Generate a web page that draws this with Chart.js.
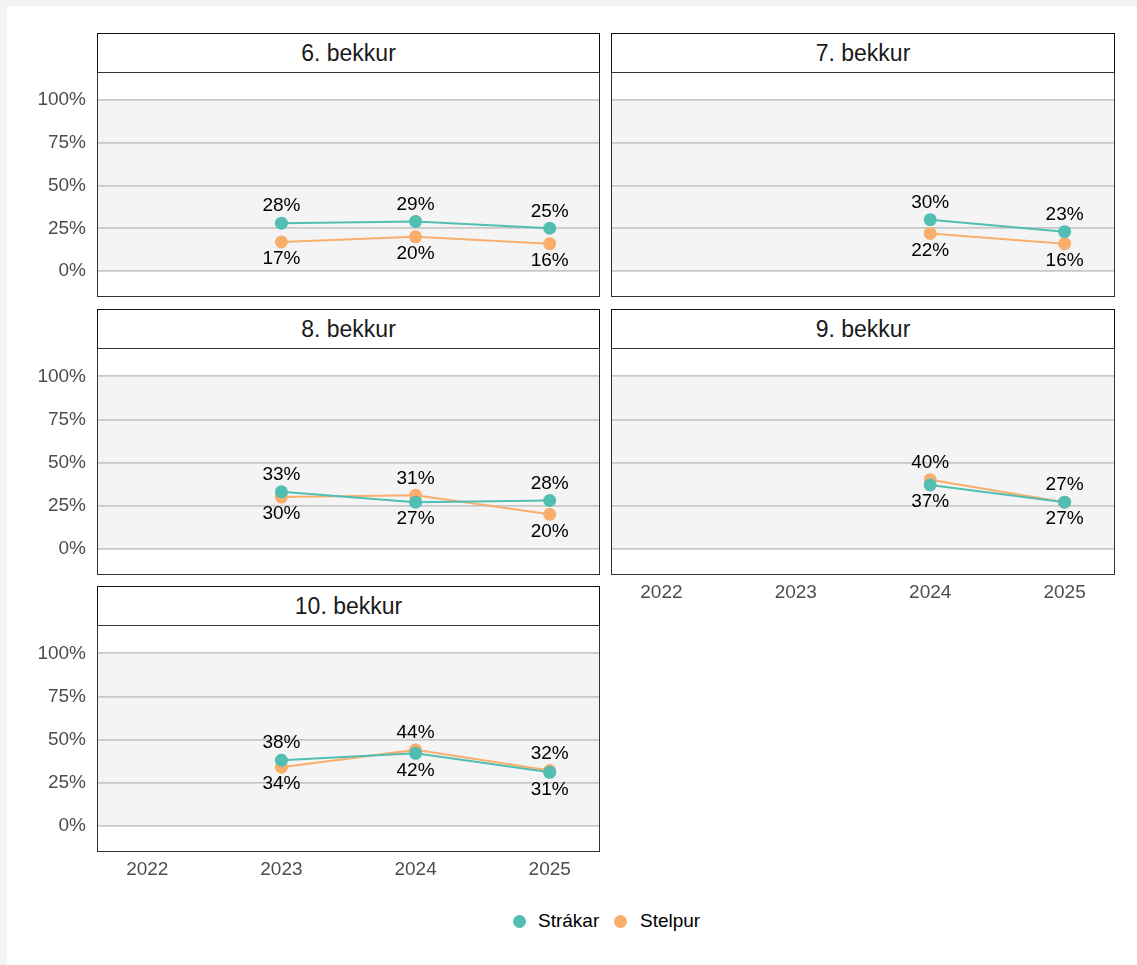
<!DOCTYPE html>
<html>
<head>
<meta charset="utf-8">
<script src="https://cdn.jsdelivr.net/npm/chart.js@4.4.1/dist/chart.umd.min.js"></script>
<style>
  body { margin: 0; background: #f3f3f3; font-family: "Liberation Sans", Arial, sans-serif; }
  #page { position: absolute; left: 7px; top: 6px; width: 1130px; height: 959px; background: #fff; }
  .strip { position: absolute; box-sizing: border-box; border: 1px solid #111; background: #fff;
           display: flex; align-items: center; justify-content: center; font-size: 23px; color: #1a1a1a; }
  .panel { position: absolute; }
  .legend { position: absolute; top: 908px; font-size: 19px; color: #000; line-height: 26px; }
  .dot { position: absolute; width: 13px; height: 13px; border-radius: 50%; }
</style>
</head>
<body>
<div id="page"></div>
<div id="figure"></div>
<script>
// years on the x axis
const years = [2022, 2023, 2024, 2025];

// shares per grade, null = no survey that year
const facets = ['6. bekkur', '7. bekkur', '8. bekkur', '9. bekkur', '10. bekkur'];
const strakar6 = [null, 0.28, 0.29, 0.25];
const stelpur6 = [null, 0.17, 0.20, 0.16];
const strakar7 = [null, null, 0.30, 0.23];
const stelpur7 = [null, null, 0.22, 0.16];
const strakar8 = [null, 0.33, 0.27, 0.28];
const stelpur8 = [null, 0.30, 0.31, 0.20];
const strakar9 = [null, null, 0.37, 0.27];
const stelpur9 = [null, null, 0.40, 0.27];
const strakar10 = [null, 0.38, 0.42, 0.31];
const stelpur10 = [null, 0.34, 0.44, 0.32];

const strakarAll = [strakar6, strakar7, strakar8, strakar9, strakar10];
const stelpurAll = [stelpur6, stelpur7, stelpur8, stelpur9, stelpur10];

const seriesNames = ['Strákar', 'Stelpur'];
const seriesColors = ['#52bdb1', '#f9ae6c'];

const FONT = '"Liberation Sans", Arial, sans-serif';

// panel layout (facet_wrap, 2 columns)
const colLeft = [97, 611], colWidth = [503, 504];
const stripTop = [33, 309, 586], plotTop = [72, 348, 625], plotHeight = [225, 227, 227];

function toPoints(arr) {
  return years.map((y, i) => ({ x: y, y: arr[i] })).filter(p => p.y !== null);
}

// grey band between 0% and 100% plus panel border
const panelBg = {
  id: 'panelBg',
  beforeDraw(chart) {
    const { ctx, chartArea: a, scales: { y } } = chart;
    const t = y.getPixelForValue(1), b = y.getPixelForValue(0);
    ctx.save();
    ctx.fillStyle = '#f4f4f4';
    ctx.fillRect(a.left, t, a.right - a.left, b - t);
    ctx.restore();
  },
  afterDraw(chart) {
    const { ctx, chartArea: a } = chart;
    ctx.save();
    ctx.strokeStyle = '#333';
    ctx.lineWidth = 1;
    ctx.strokeRect(a.left + 0.5, a.top + 0.5, a.right - a.left - 1, a.bottom - a.top - 1);
    ctx.restore();
  }
};

// percentage labels: higher value above the point, lower below
const pointLabels = {
  id: 'pointLabels',
  afterDatasetsDraw(chart) {
    const ctx = chart.ctx;
    const sets = chart.data.datasets;
    ctx.save();
    ctx.font = '19px ' + FONT;
    ctx.fillStyle = '#000';
    ctx.textAlign = 'center';
    ctx.textBaseline = 'middle';
    sets.forEach((ds, i) => {
      const meta = chart.getDatasetMeta(i);
      ds.data.forEach((p, j) => {
        const o = sets[1 - i].data.find(q => q.x === p.x);
        const above = !o || p.y > o.y || (p.y === o.y && i === 0);
        const el = meta.data[j];
        ctx.fillText(Math.round(p.y * 100) + '%', el.x, el.y + (above ? -17 : 17));
      });
    });
    ctx.restore();
  }
};

function noPad(s) {
  s.paddingTop = 0; s.paddingBottom = 0; s.paddingLeft = 0; s.paddingRight = 0;
}

const fig = document.getElementById('figure');

facets.forEach((name, k) => {
  const row = Math.floor(k / 2), col = k % 2;
  const showY = col === 0;
  const showX = (k === 3 || k === 4);
  const yW = showY ? 97 : 0;
  const xH = showX ? 40 : 0;

  const strip = document.createElement('div');
  strip.className = 'strip';
  strip.style.left = colLeft[col] + 'px';
  strip.style.top = stripTop[row] + 'px';
  strip.style.width = colWidth[col] + 'px';
  strip.style.height = (plotTop[row] - stripTop[row] + 1) + 'px';
  strip.textContent = name;
  fig.appendChild(strip);

  const box = document.createElement('div');
  box.className = 'panel';
  box.style.left = (colLeft[col] - yW) + 'px';
  box.style.top = plotTop[row] + 'px';
  box.style.width = (colWidth[col] + yW) + 'px';
  box.style.height = (plotHeight[row] + xH) + 'px';
  const canvas = document.createElement('canvas');
  box.appendChild(canvas);
  fig.appendChild(box);

  new Chart(canvas, {
    type: 'line',
    data: {
      datasets: [strakarAll[k], stelpurAll[k]].map((arr, i) => ({
        label: seriesNames[i],
        data: toPoints(arr),
        borderColor: seriesColors[i],
        backgroundColor: seriesColors[i],
        pointBackgroundColor: seriesColors[i],
        pointBorderColor: seriesColors[i],
        borderWidth: 2,
        pointRadius: 6.5,
        pointBorderWidth: 0,
        tension: 0
      }))
    },
    options: {
      responsive: true,
      maintainAspectRatio: false,
      animation: false,
      layout: { padding: 0, autoPadding: false },
      plugins: { legend: { display: false }, tooltip: { enabled: false } },
      scales: {
        x: {
          type: 'linear',
          min: 2021.625,
          max: 2025.375,
          afterBuildTicks: s => { s.ticks = years.map(v => ({ value: v })); },
          afterFit: s => { s.height = xH; noPad(s); },
          grid: { display: false, drawTicks: false },
          border: { display: false },
          ticks: {
            display: showX,
            padding: 6,
            color: '#4d4d4d',
            font: { family: FONT, size: 19 },
            callback: v => String(v)
          }
        },
        y: {
          min: -0.152,
          max: 1.164,
          afterBuildTicks: s => { s.ticks = [0, 0.25, 0.5, 0.75, 1].map(v => ({ value: v })); },
          afterFit: s => { s.width = yW; noPad(s); },
          grid: { color: '#c8c8c8', lineWidth: 1.8, drawTicks: false },
          border: { display: false },
          ticks: {
            display: showY,
            padding: 11,
            color: '#4d4d4d',
            font: { family: FONT, size: 19 },
            callback: v => Math.round(v * 100) + '%'
          }
        }
      }
    },
    plugins: [panelBg, pointLabels]
  });
});

// legend at the bottom
const legendX = [[519, 538], [620, 640]];
seriesNames.forEach((n, i) => {
  const d = document.createElement('div');
  d.className = 'dot';
  d.style.left = (legendX[i][0] - 6.5) + 'px';
  d.style.top = (921 - 6.5) + 'px';
  d.style.background = seriesColors[i];
  fig.appendChild(d);
  const t = document.createElement('div');
  t.className = 'legend';
  t.style.left = legendX[i][1] + 'px';
  t.textContent = n;
  fig.appendChild(t);
});
</script>
</body>
</html>
